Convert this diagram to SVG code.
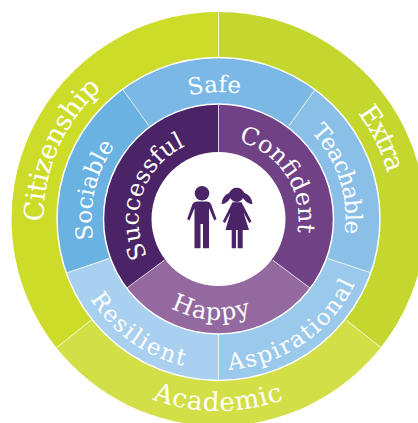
<svg xmlns="http://www.w3.org/2000/svg" width="418" height="423" viewBox="0 0 418 423">
<style>
.t{font-family:"DejaVu Serif","Liberation Serif",serif;fill:#fff}
.o{font-size:26px}.m{font-size:23px}.i{font-size:24px}
.d{stroke:#fff;stroke-width:1;stroke-opacity:.75;fill:none}
.e{stroke:#fff;stroke-width:1.5;fill:none}
.f{fill:#4a2466}
</style>
<defs>
<path id="t175" d="M43.500 219A175 175 0 0 1 393.500 219"/>
<path id="t127" d="M91.500 219A127 127 0 0 1 345.500 219"/>
<path id="t80" d="M138.500 219A80 80 0 0 1 298.500 219"/>
<path id="b192" d="M26.500 219A192 192 0 0 0 410.500 219"/>
<path id="b151" d="M67.500 219A151 151 0 0 0 369.500 219"/>
<path id="b101" d="M117.500 219A101 101 0 0 0 319.500 219"/>
</defs>
<g id="outer-ring">
<path id="citizenship" fill="#cddc29" d="M218.500 12A207 207 0 0 0 56.400 347.700L218.500 219Z"/>
<path id="extra" fill="#c3d72f" d="M218.500 12A207 207 0 0 1 380.600 347.700L218.500 219Z"/>
<path id="academic" fill="#d2df46" d="M56.400 347.700A207 207 0 0 0 380.600 347.700L218.500 219Z"/>
</g>
<g id="middle-ring">
<path id="sociable" fill="#6ab2e2" d="M122.500 89.300A161.500 161.500 0 0 0 66.300 273L218.500 219Z"/>
<path id="safe" fill="#7cb8e5" d="M122.500 89.300A161.500 161.500 0 0 1 314.500 89.300L218.500 219Z"/>
<path id="teachable" fill="#8abfe8" d="M314.500 89.300A161.500 161.500 0 0 1 370.700 273L218.500 219Z"/>
<path id="aspirational" fill="#9ac9ec" d="M370.700 273A161.500 161.500 0 0 1 218.500 380.500L218.500 219Z"/>
<path id="resilient" fill="#a9d0ee" d="M66.300 273A161.500 161.500 0 0 0 218.500 380.500L218.500 219Z"/>
</g>
<g id="inner-ring">
<path id="successful" fill="#4a2466" d="M218.500 104A115 115 0 0 0 126.800 288.500L218.500 219Z"/>
<path id="confident" fill="#704184" d="M218.500 104A115 115 0 0 1 310.200 288.500L218.500 219Z"/>
<path id="happy" fill="#9469a0" d="M126.800 288.500A115 115 0 0 0 310.200 288.500L218.500 219Z"/>
</g>
<circle cx="218.500" cy="219" r="67" fill="#fff"/>
<g id="connectors">
<circle class="e" cx="218.500" cy="219" r="161.500"/>
<circle class="e" cx="218.500" cy="219" r="115"/>
<path class="d" d="M218.500 12V57M346.700 320.300L381.300 347.700M90.700 320.300L56.700 347.700M122.700 89.300L149 126M314.700 90L289 126M370.700 272.700L328.300 258.700M67.300 272.700L109 258.700M218.500 334V380M218.500 104V152M273 260.300L310 288M164.300 260.300L126.700 288"/>
</g>
<g id="labels">
<text class="t o" transform="rotate(-66.500 218.500 219)" style="font-size:27px" letter-spacing="-.4"><textPath href="#t175" startOffset="50%" text-anchor="middle">Citizenship</textPath></text>
<text class="t o" transform="rotate(63.500 218.500 219)" style="font-size:27px" letter-spacing="-1.700"><textPath href="#t175" startOffset="50%" text-anchor="middle">Extra</textPath></text>
<text class="t o" letter-spacing=".8"><textPath href="#b192" startOffset="50%" text-anchor="middle">Academic</textPath></text>
<text class="t m" transform="rotate(-1.800 218.500 219)"><textPath href="#t127" startOffset="50%" text-anchor="middle">Safe</textPath></text>
<text class="t m" transform="rotate(-77 218.500 219)" letter-spacing="-.1"><textPath href="#t127" startOffset="50%" text-anchor="middle">Sociable</textPath></text>
<text class="t m" transform="rotate(71.500 218.500 219)" letter-spacing="-.9"><textPath href="#t127" startOffset="50%" text-anchor="middle">Teachable</textPath></text>
<text class="t m" transform="rotate(35.400 218.500 219)" letter-spacing="1.900"><textPath href="#b151" startOffset="50%" text-anchor="middle">Resilient</textPath></text>
<text class="t m" transform="rotate(-34.600 218.500 219)" letter-spacing="1.700"><textPath href="#b151" startOffset="50%" text-anchor="middle">Aspirational</textPath></text>
<text class="t i" transform="rotate(-71 218.500 219)"><textPath href="#t80" startOffset="50%" text-anchor="middle">Successful</textPath></text>
<text class="t i" transform="rotate(57 218.500 219)"><textPath href="#t80" startOffset="50%" text-anchor="middle">Confident</textPath></text>
<text class="t i" transform="rotate(4.500 218.500 219)" letter-spacing=".8"><textPath href="#b101" startOffset="50%" text-anchor="middle">Happy</textPath></text>
</g>
<g id="boy" class="f">
<circle cx="202" cy="193.300" r="7.300"/>
<path d="M197 201.500H207Q210 201.500 211 204L216.500 219L214.200 220.500L209 208V248.300H203V224H200.500V248.300H194.500V208L189.500 220.500L187.200 219L192.500 204Q194 201.500 197 201.500Z"/>
</g>
<g id="girl" class="f">
<circle cx="236.700" cy="195" r="7"/>
<path d="M229 193Q232 187.700 236.700 187.700Q241.500 187.700 244.500 193Q252 196 252.500 204Q247 204 243 198H230.500Q226.500 204 221.500 204Q222 196 229 193Z"/>
<path d="M232.500 202.300H241.500L251.500 221.500L249.300 223L243.500 212.500L249 230H242.700V248.300H237.700V230H236V248.300H231.700V230H225.500L230.500 212.500L225 223L222.800 221.500Z"/>
</g>
</svg>
